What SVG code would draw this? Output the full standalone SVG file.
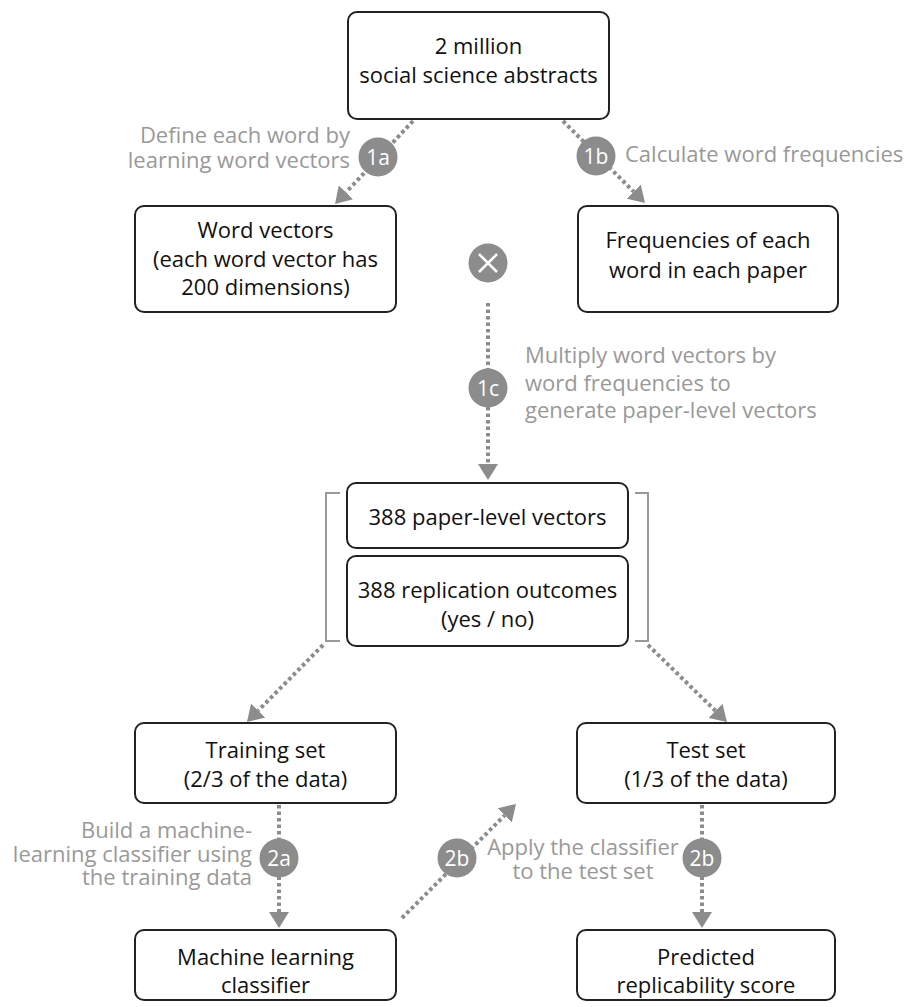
<svg xmlns="http://www.w3.org/2000/svg" width="907" height="1007" viewBox="0 0 907 1007">
<style>
.box{fill:#fff;stroke:#222;stroke-width:2}
.t{font-family:"Open Sans","Liberation Sans",sans-serif;font-size:22px;fill:#111;text-anchor:middle}
.lbl{font-family:"Open Sans","Liberation Sans",sans-serif;font-size:22px;fill:#999}
.badge{fill:#8c8c8c}
.bt{font-family:"Open Sans","Liberation Sans",sans-serif;font-size:21px;fill:#fff;text-anchor:middle}
.dot{fill:none;stroke:#8c8c8c;stroke-width:4;stroke-dasharray:3.5 3}
.brk{fill:none;stroke:#999;stroke-width:2}
</style>
<defs>
<marker id="ah" viewBox="0 0 16 20" refX="0" refY="10" markerWidth="16" markerHeight="20" markerUnits="userSpaceOnUse" orient="auto">
<path d="M0,0 L16,10 L0,20 z" fill="#8c8c8c"/>
</marker>
</defs>
<rect width="907" height="1007" fill="#fff"/>
<g id="connectors">
<line class="dot" x1="413" y1="121" x2="346" y2="192.4" marker-end="url(#ah)"/>
<line class="dot" x1="563" y1="121" x2="633.7" y2="191.7" marker-end="url(#ah)"/>
<line class="dot" x1="488" y1="303" x2="488" y2="464" marker-end="url(#ah)"/>
<line class="dot" x1="323" y1="645" x2="258.2" y2="710.6" marker-end="url(#ah)"/>
<line class="dot" x1="648" y1="645" x2="715.5" y2="710.8" marker-end="url(#ah)"/>
<line class="dot" x1="279" y1="805" x2="279" y2="912" marker-end="url(#ah)"/>
<line class="dot" x1="702" y1="805" x2="702" y2="912" marker-end="url(#ah)"/>
<line class="dot" x1="402" y1="918" x2="504.7" y2="815.3" marker-end="url(#ah)"/>
<path class="brk" d="M340,493 H326 V641 H340"/>
<path class="brk" d="M635,493 H648 V641 H635"/>
</g>
<g id="abstracts">
<rect class="box" x="348" y="12" width="261" height="107" rx="9"/>
<text class="t" x="478.5" y="54">2 million</text>
<text class="t" x="478.5" y="83">social science abstracts</text>
</g>
<g id="word-vectors">
<rect class="box" x="135" y="206" width="261" height="106" rx="9"/>
<text class="t" x="265.5" y="238">Word vectors</text>
<text class="t" x="265.5" y="267">(each word vector has</text>
<text class="t" x="265.5" y="295">200 dimensions)</text>
</g>
<g id="frequencies">
<rect class="box" x="578" y="206" width="260" height="106" rx="9"/>
<text class="t" x="708" y="248">Frequencies of each</text>
<text class="t" x="708" y="278">word in each paper</text>
</g>
<g id="multiply">
<circle class="badge" cx="488" cy="263" r="19.5"/>
<path d="M479,254 L497,272 M497,254 L479,272" stroke="#fff" stroke-width="2.5"/>
</g>
<g id="paper-vectors">
<rect class="box" x="347" y="483" width="281" height="65" rx="9"/>
<text class="t" x="487.5" y="525">388 paper-level vectors</text>
</g>
<g id="replication">
<rect class="box" x="347" y="556" width="281" height="90" rx="9"/>
<text class="t" x="487.5" y="598">388 replication outcomes</text>
<text class="t" x="487.5" y="627">(yes / no)</text>
</g>
<g id="training">
<rect class="box" x="135" y="723" width="261" height="80" rx="9"/>
<text class="t" x="265.5" y="758">Training set</text>
<text class="t" x="265.5" y="787">(2/3 of the data)</text>
</g>
<g id="test">
<rect class="box" x="577" y="723" width="258" height="80" rx="9"/>
<text class="t" x="706" y="758">Test set</text>
<text class="t" x="706" y="787">(1/3 of the data)</text>
</g>
<g id="classifier">
<rect class="box" x="135" y="930" width="261" height="70" rx="9"/>
<text class="t" x="265.5" y="965">Machine learning</text>
<text class="t" x="265.5" y="993">classifier</text>
</g>
<g id="predicted">
<rect class="box" x="577" y="930" width="258" height="70" rx="9"/>
<text class="t" x="706" y="965">Predicted</text>
<text class="t" x="706" y="993">replicability score</text>
</g>
<g id="step-1a">
<circle class="badge" cx="378" cy="157" r="19.5"/>
<text class="bt" x="378" y="164.5">1a</text>
<text class="lbl" x="350" y="143" text-anchor="end">Define each word by</text>
<text class="lbl" x="350" y="168" text-anchor="end">learning word vectors</text>
</g>
<g id="step-1b">
<circle class="badge" cx="596" cy="156" r="19.5"/>
<text class="bt" x="596" y="163.5">1b</text>
<text class="lbl" x="625" y="162">Calculate word frequencies</text>
</g>
<g id="step-1c">
<circle class="badge" cx="488" cy="388" r="19.5"/>
<text class="bt" x="488" y="395.5">1c</text>
<text class="lbl" x="525" y="363">Multiply word vectors by</text>
<text class="lbl" x="525" y="391">word frequencies to</text>
<text class="lbl" x="525" y="418">generate paper-level vectors</text>
</g>
<g id="step-2a">
<circle class="badge" cx="279" cy="858" r="19.5"/>
<text class="bt" x="279" y="865.5">2a</text>
<text class="lbl" x="252" y="838" text-anchor="end">Build a machine-</text>
<text class="lbl" x="252" y="862" text-anchor="end">learning classifier using</text>
<text class="lbl" x="252" y="885" text-anchor="end">the training data</text>
</g>
<g id="step-2b-left">
<circle class="badge" cx="457" cy="858" r="19.5"/>
<text class="bt" x="457" y="865.5">2b</text>
<text class="lbl" x="583" y="855" text-anchor="middle">Apply the classifier</text>
<text class="lbl" x="583" y="879" text-anchor="middle">to the test set</text>
</g>
<g id="step-2b-right">
<circle class="badge" cx="702" cy="858" r="19.5"/>
<text class="bt" x="702" y="865.5">2b</text>
</g>
</svg>
